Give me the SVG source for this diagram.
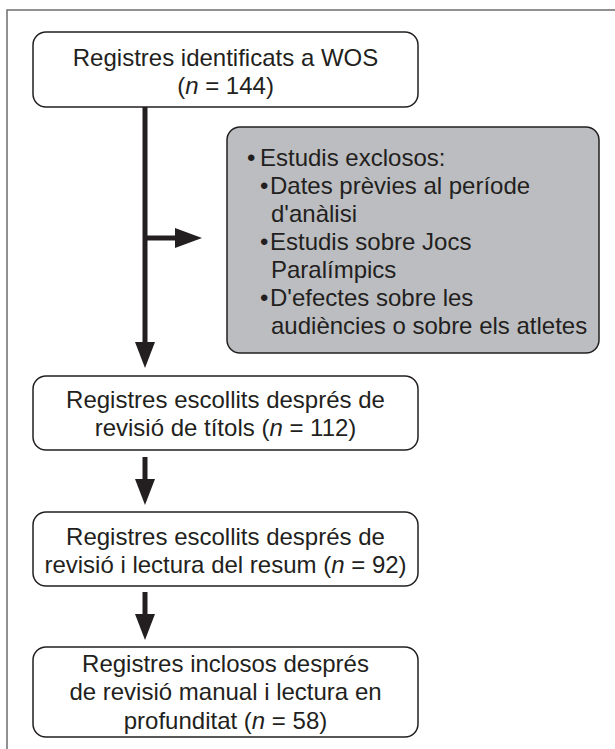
<svg xmlns="http://www.w3.org/2000/svg" width="615" height="749" viewBox="0 0 615 749">
<defs>
<style>
.box{fill:#fff;stroke:#231f20;stroke-width:1.5}
.gbox{fill:#bcbdc0;stroke:#231f20;stroke-width:1.5}
text{font-family:"Liberation Sans",Arial,sans-serif;font-size:24px;fill:#231f20}
.c{text-anchor:middle}
.ln{stroke:#231f20;stroke-width:5;fill:none}
.hd{fill:#231f20}
</style>
</defs>
<rect width="615" height="749" fill="#fff"/>
<path d="M7,749 V10 H615" fill="none" stroke="#6d6e70" stroke-width="1.5"/>
<g id="n1">
<rect class="box" x="33" y="32" width="385" height="75" rx="13"/>
<text class="c" x="225.5" y="66">Registres identificats a WOS</text>
<text class="c" x="225.5" y="94">(<tspan font-style="italic">n</tspan> = 144)</text>
</g>
<g id="excl">
<rect class="gbox" x="227" y="127" width="372" height="226" rx="13"/>
<text x="247" y="166">•</text>
<text x="260" y="166">Estudis exclosos:</text>
<text x="260" y="194">•</text>
<text x="270" y="194">Dates prèvies al període</text>
<text x="271" y="222">d'anàlisi</text>
<text x="260" y="250">•</text>
<text x="270" y="250">Estudis sobre Jocs</text>
<text x="271" y="278">Paralímpics</text>
<text x="260" y="306">•</text>
<text x="270" y="306">D'efectes sobre les</text>
<text x="271" y="334">audiències o sobre els atletes</text>
</g>
<g id="n2">
<rect class="box" x="33" y="376" width="385" height="74" rx="13"/>
<text class="c" x="225.5" y="408">Registres escollits després de</text>
<text class="c" x="225.5" y="436">revisió de títols (<tspan font-style="italic">n</tspan> = 112)</text>
</g>
<g id="n3">
<rect class="box" x="33" y="512" width="385" height="74" rx="13"/>
<text class="c" x="225.5" y="545">Registres escollits després de</text>
<text class="c" x="225.5" y="573">revisió i lectura del resum (<tspan font-style="italic">n</tspan> = 92)</text>
</g>
<g id="n4">
<rect class="box" x="33" y="647" width="385" height="90" rx="13"/>
<text class="c" x="225.5" y="672">Registres inclosos després</text>
<text class="c" x="225.5" y="700">de revisió manual i lectura en</text>
<text class="c" x="225.5" y="729">profunditat (<tspan font-style="italic">n</tspan> = 58)</text>
</g>
<g id="connectors">
<path class="ln" d="M145,107 V344"/>
<polygon class="hd" points="135,342 155,342 145,368"/>
<path class="ln" d="M145,238 H177"/>
<polygon class="hd" points="175,228 175,248 202,238"/>
<path class="ln" d="M145,457 V481"/>
<polygon class="hd" points="135,479 155,479 145,505"/>
<path class="ln" d="M145,592 V616"/>
<polygon class="hd" points="135,614 155,614 145,640"/>
</g>
</svg>
